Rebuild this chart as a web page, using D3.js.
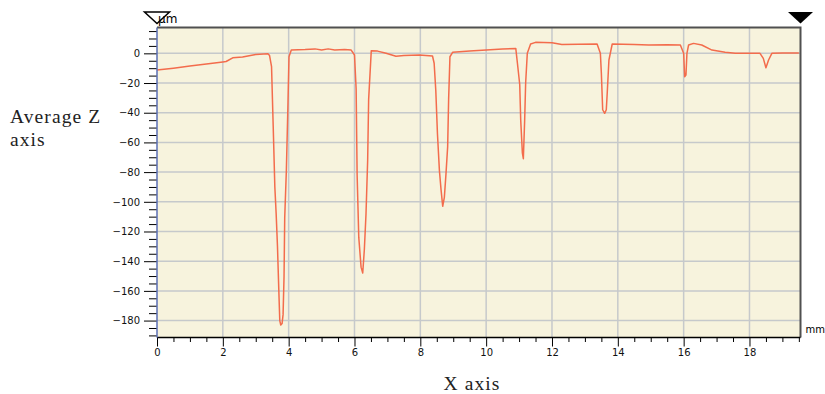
<!DOCTYPE html>
<html>
<head>
<meta charset="utf-8">
<script src="https://cdn.jsdelivr.net/npm/d3@7"></script>
<style>
  body { margin: 0; background: #fff; }
</style>
</head>
<body>
<div id="chart"></div>
<script>
"use strict";

// profile: position (mm) and average Z (µm)
const xs = [0.00, 0.5, 1.0, 1.5, 2.0, 2.1, 2.3, 2.6, 3.0, 3.37, 3.42, 3.48, 3.53, 3.58, 3.62, 3.66, 3.70, 3.73, 3.76, 3.80,
  3.83, 3.86, 3.88, 3.93, 3.98, 4.01, 4.08, 4.5, 4.8, 5.0, 5.2, 5.4, 5.7, 5.9, 6.0, 6.05, 6.08, 6.13, 6.20, 6.25,
  6.30, 6.35, 6.40, 6.43, 6.51, 6.7, 6.96, 7.26, 7.5, 7.97, 8.37, 8.42, 8.47, 8.52, 8.58, 8.63, 8.68, 8.73, 8.78, 8.83,
  8.86, 8.90, 8.98, 9.5, 10.0, 10.5, 10.9, 10.95, 11.02, 11.05, 11.10, 11.13, 11.17, 11.20, 11.25, 11.35, 11.5, 12.0, 12.3, 12.8,
  13.37, 13.47, 13.50, 13.54, 13.60, 13.65, 13.68, 13.73, 13.83, 14.5, 14.94, 15.5, 15.9, 16.0, 16.03, 16.07, 16.10, 16.15, 16.3, 16.55,
  16.86, 17.26, 17.57, 18.32, 18.42, 18.50, 18.58, 18.68, 19.0, 19.5];
const zs = [-11.3, -10.0, -8.6, -7.2, -5.8, -5.5, -3.0, -2.5, -0.8, -0.3, -1.5, -9, -49, -90, -108, -130, -159, -180, -183, -182,
  -176, -150, -111, -79, -33, -2.3, 2.2, 2.5, 3.0, 2.3, 3.0, 2.3, 2.5, 2.2, -1.1, -24, -82, -124, -144, -148,
  -132, -108, -72, -31, 1.8, 1.5, 0, -2, -1.5, -1.1, -1.8, -6.7, -25, -54, -79, -92, -103, -97, -81, -63,
  -31, -2.3, 0.7, 1.5, 2.2, 3.0, 3.3, -6.7, -21, -45, -67, -71, -45, -20, 0, 6.3, 7.4, 7.2, 6.0, 6.2,
  6.3, 0, -13.5, -38, -40.4, -38, -26, -4.5, 6.3, 6.0, 5.6, 5.8, 5.6, 0, -15.8, -14.6, 0, 5.6, 6.7, 5.6,
  2.2, 0.7, 0, 0, -3.4, -9.7, -4.5, 0, 0.2, 0.3];

const xTicks = [0, 2, 4, 6, 8, 10, 12, 14, 16, 18];
const yTicks = [0, -20, -40, -60, -80, -100, -120, -140, -160, -180];

const width = 825, height = 394;
const margin = {top: 27.5, right: 24.5, bottom: 56.5, left: 157};
const sans = "'DejaVu Sans', Verdana, sans-serif";
const serif = "'Liberation Serif', 'Times New Roman', serif";

const x = d3.scaleLinear([0, 19.55], [margin.left, width - margin.right]);
const y = d3.scaleLinear([-191.4, 17.4], [height - margin.bottom, margin.top]);

const svg = d3.select("#chart").append("svg")
    .attr("width", width)
    .attr("height", height);

// plot background
svg.append("rect")
    .attr("x", x(0)).attr("y", y.range()[1])
    .attr("width", x.range()[1] - x(0))
    .attr("height", y.range()[0] - y.range()[1])
    .attr("fill", "#f7f3dd");

// grid
const grid = svg.append("g").attr("stroke", "#c6c9cb").attr("stroke-width", 1.5);
grid.selectAll(".gx").data(xTicks.filter(d => d > 0)).join("line")
    .attr("x1", d => x(d)).attr("x2", d => x(d))
    .attr("y1", y.range()[1]).attr("y2", y.range()[0]);
grid.selectAll(".gy").data(yTicks).join("line")
    .attr("y1", d => y(d)).attr("y2", d => y(d))
    .attr("x1", x.range()[0]).attr("x2", x.range()[1]);

// profile line
const line = d3.line().x(i => x(xs[i])).y(i => y(zs[i]));
svg.append("path")
    .attr("d", line(d3.range(xs.length)))
    .attr("fill", "none")
    .attr("stroke", "#f36c4c")
    .attr("stroke-width", 1.5)
    .attr("stroke-linejoin", "round");

// frame top + right
svg.append("path")
    .attr("d", `M${x(0)},${y.range()[1]}H${x.range()[1]}V${y.range()[0]}`)
    .attr("fill", "none")
    .attr("stroke", "#505050")
    .attr("stroke-width", 2);

// minor ticks, every 5 µm and every 0.5 mm
const yMinor = d3.range(-190, 17, 5).filter(d => d % 20 !== 0);
svg.append("g")
    .attr("transform", `translate(${margin.left},0)`)
    .call(d3.axisLeft(y).tickValues(yMinor).tickSize(8).tickFormat(""))
    .call(g => g.select(".domain").remove());
const xMinor = d3.range(0.5, 19.6, 0.5).filter(d => d % 2 !== 0);
svg.append("g")
    .attr("transform", `translate(0,${y.range()[0]})`)
    .call(d3.axisBottom(x).tickValues(xMinor).tickSize(4.5).tickFormat(""))
    .call(g => g.select(".domain").remove());

// major axes
svg.append("g")
    .attr("transform", `translate(${margin.left},0)`)
    .call(d3.axisLeft(y).tickValues(yTicks).tickSize(13).tickPadding(4).tickFormat(d3.format("d")))
    .call(g => g.select(".domain").remove())
    .call(g => g.selectAll("text").attr("font-family", sans).attr("font-size", 10).attr("fill", "#111"));
svg.append("g")
    .attr("transform", `translate(0,${y.range()[0]})`)
    .call(d3.axisBottom(x).tickValues(xTicks).tickSize(9).tickPadding(2).tickFormat(d3.format("d")))
    .call(g => g.select(".domain").remove())
    .call(g => g.selectAll("text").attr("font-family", sans).attr("font-size", 10).attr("fill", "#111"));

svg.append("line")
    .attr("x1", x(0)).attr("x2", x.range()[1])
    .attr("y1", y.range()[0]).attr("y2", y.range()[0])
    .attr("stroke", "#000").attr("stroke-width", 1.5);
svg.append("line")
    .attr("x1", x(0)).attr("x2", x(0))
    .attr("y1", y.range()[1]).attr("y2", y.range()[0])
    .attr("stroke", "#5b6fb5").attr("stroke-width", 1.5);

// unit labels and end markers
svg.append("text")
    .attr("x", x(0) + 1).attr("y", 23)
    .attr("font-family", sans).attr("font-size", 12)
    .text("µm");
svg.append("text")
    .attr("x", x.range()[1] + 5).attr("y", 333)
    .attr("font-family", sans).attr("font-size", 10)
    .text("mm");

const tri = cx => `M${cx - 12.5},12L${cx + 12.5},12L${cx},23.5Z`;
svg.append("path").attr("d", tri(x(0)))
    .attr("fill", "none").attr("stroke", "#000").attr("stroke-width", 1.5);
svg.append("path").attr("d", tri(x.range()[1]))
    .attr("fill", "#000");

// axis titles
const ytitle = svg.append("text")
    .attr("font-family", serif).attr("font-size", 19.5)
    .attr("letter-spacing", 1.1).attr("fill", "#222");
ytitle.append("tspan").attr("x", 10).attr("y", 123).text("Average Z");
ytitle.append("tspan").attr("x", 10).attr("y", 146).text("axis");
svg.append("text")
    .attr("x", 472).attr("y", 390)
    .attr("text-anchor", "middle")
    .attr("font-family", serif).attr("font-size", 19.5)
    .attr("letter-spacing", 1.1).attr("fill", "#222")
    .text("X axis");
</script>
</body>
</html>
